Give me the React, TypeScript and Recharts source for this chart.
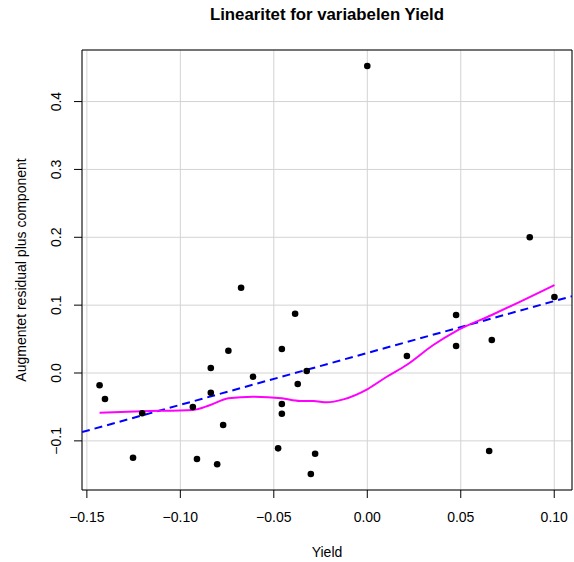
import {
  ComposedChart,
  Scatter,
  Line,
  XAxis,
  YAxis,
  CartesianGrid,
  ReferenceArea,
} from "recharts";

const FONT = '"Liberation Sans", Arial, Helvetica, sans-serif';

// observed Yield and the augmented partial residual for each case
const yieldValues = [
  -0.1432, -0.1403, -0.1253, -0.1204, -0.0675, -0.0743, -0.0837, -0.0837, -0.0933, -0.0911,
  -0.0803, -0.0771, -0.0611, -0.0386, -0.0457, -0.0457, -0.0457, -0.0477, -0.0372, -0.0324,
  -0.0279, -0.0302, 0.0212, 0.0475, 0.0475, 0.0666, 0.0652, 0.0869, 0.1001, 0.0,
];
const residualValues = [
  -0.0181, -0.0383, -0.1248, -0.0594, 0.1257, 0.0329, 0.0074, -0.029, -0.0501, -0.1267,
  -0.1345, -0.0766, -0.0055, 0.0874, 0.0354, -0.0457, -0.06, -0.111, -0.0162, 0.0029,
  -0.1189, -0.1488, 0.0251, 0.0855, 0.0398, 0.0486, -0.1149, 0.2, 0.112, 0.4524,
];

// loess smoother through the residuals
const loessX = [
  -0.1432, -0.1204, -0.0933, -0.084, -0.0743, -0.0611, -0.0457, -0.036, -0.0288, -0.0217,
  -0.0128, 0.0002, 0.0104, 0.021, 0.0353, 0.0475, 0.0666, 0.1001,
];
const loessY = [
  -0.0585, -0.0564, -0.0545, -0.0472, -0.0373, -0.0349, -0.0373, -0.0413, -0.0413, -0.0432,
  -0.0388, -0.0236, -0.0055, 0.0118, 0.0413, 0.0619, 0.0855, 0.1297,
];

// linear fit, drawn edge to edge
const fitX = [-0.1526, 0.1095];
const fitY = [-0.0871, 0.1132];

const xTicks = [-0.15, -0.1, -0.05, 0, 0.05, 0.1];
const yTicks = [-0.1, 0, 0.1, 0.2, 0.3, 0.4];
const xDomain = [-0.1526, 0.1095];
const yDomain = [-0.1724, 0.476];

const points = yieldValues.map((x, i) => ({ x, y: residualValues[i] }));
const loess = loessX.map((x, i) => ({ x, y: loessY[i] }));
const fit = fitX.map((x, i) => ({ x, y: fitY[i] }));

const fmt = (v: number, digits: number) => {
  const s = Math.abs(v).toFixed(digits);
  return v < 0 ? `\u2212${s}` : s;
};

const YTick = (props: any) => {
  const { x, y, payload } = props;
  return (
    <text
      x={x}
      y={y}
      transform={`rotate(-90, ${x}, ${y})`}
      textAnchor="middle"
      fontSize={14}
      fontFamily={FONT}
      fill="#000"
    >
      {fmt(payload.value, 1)}
    </text>
  );
};

const Dot = (props: any) => <circle cx={props.cx} cy={props.cy} r={3.3} fill="#000" />;

export default function App() {
  return (
    <div
      style={{
        position: "absolute",
        left: 0,
        top: 0,
        width: 574,
        height: 562,
        background: "#fff",
      }}
    >
      <div
        style={{
          position: "absolute",
          top: 5,
          left: 82,
          width: 490,
          height: 20,
          lineHeight: "20px",
          textAlign: "center",
          fontFamily: FONT,
          fontWeight: "bold",
          fontSize: 16.8,
          color: "#000",
        }}
      >
        Linearitet for variabelen Yield
      </div>
      <ComposedChart
        width={574}
        height={562}
        margin={{ top: 50, right: 2, bottom: 0, left: 0 }}
      >
        <CartesianGrid stroke="#d3d3d3" />
        <XAxis
          type="number"
          dataKey="x"
          domain={xDomain}
          ticks={xTicks}
          interval={0}
          allowDataOverflow
          height={72}
          axisLine={false}
          tickLine={{ stroke: "#000" }}
          tickSize={8}
          tickMargin={14}
          tick={{ fontSize: 14, fill: "#000", fontFamily: FONT }}
          tickFormatter={(v: number) => fmt(v, 2)}
          label={{
            position: "insideBottom",
            content: ({ viewBox }: any) => (
              <text
                x={viewBox.x + viewBox.width / 2}
                y={viewBox.y + viewBox.height - 5}
                textAnchor="middle"
                fontSize={14}
                fontFamily={FONT}
                fill="#000"
              >
                Yield
              </text>
            ),
          }}
        />
        <YAxis
          type="number"
          dataKey="y"
          domain={yDomain}
          ticks={yTicks}
          interval={0}
          allowDataOverflow
          width={82}
          axisLine={false}
          tickLine={{ stroke: "#000" }}
          tickSize={8}
          tickMargin={13}
          tick={<YTick />}
          label={{
            position: "insideLeft",
            content: ({ viewBox }: any) => {
              const lx = viewBox.x + 26;
              const ly = viewBox.y + viewBox.height / 2;
              return (
                <text
                  x={lx}
                  y={ly}
                  transform={`rotate(-90, ${lx}, ${ly})`}
                  textAnchor="middle"
                  fontSize={14}
                  fontFamily={FONT}
                  fill="#000"
                >
                  Augmentet residual plus component
                </text>
              );
            },
          }}
        />
        <ReferenceArea
          x1={xDomain[0]}
          x2={xDomain[1]}
          y1={yDomain[0]}
          y2={yDomain[1]}
          fill="none"
          fillOpacity={0}
          stroke="#000"
          strokeWidth={1}
        />
        <Line
          data={fit}
          dataKey="y"
          type="linear"
          stroke="#0000ff"
          strokeWidth={2}
          strokeDasharray="8 5"
          dot={false}
          activeDot={false}
          isAnimationActive={false}
        />
        <Line
          data={loess}
          dataKey="y"
          type="monotone"
          stroke="#ff00ff"
          strokeWidth={2}
          dot={false}
          activeDot={false}
          isAnimationActive={false}
        />
        <Scatter data={points} dataKey="y" shape={<Dot />} isAnimationActive={false} />
      </ComposedChart>
    </div>
  );
}
